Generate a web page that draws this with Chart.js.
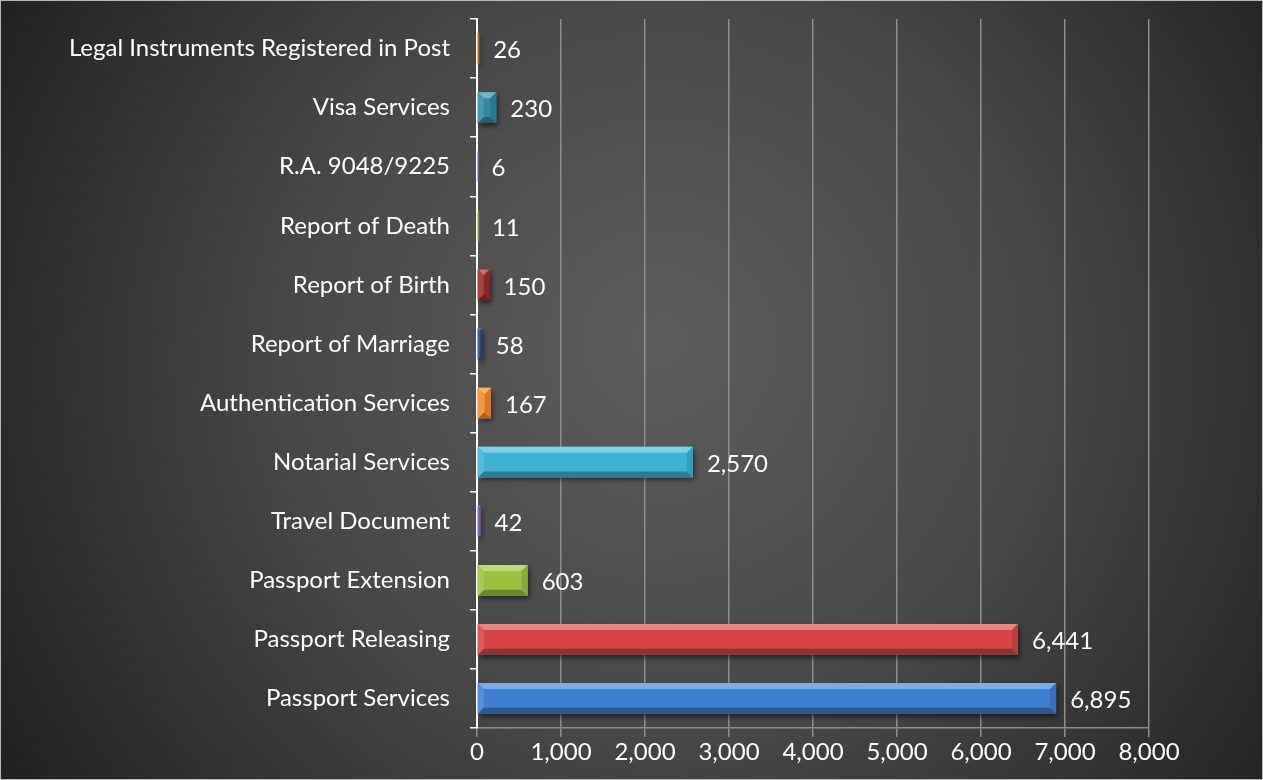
<!DOCTYPE html>
<html>
<head>
<meta charset="utf-8">
<script src="https://cdn.jsdelivr.net/npm/chart.js@4.4.1/dist/chart.umd.min.js"></script>
<style>
  html, body { margin: 0; padding: 0; background: #222; }
  #wrap { width: 1263px; height: 780px; }
</style>
</head>
<body>
<div id="wrap"><canvas id="servicesChart" width="1263" height="780"></canvas></div>
<script>
// categories, top to bottom as they appear in the chart
const services = [
    "Legal Instruments Registered in Post",
    "Visa Services",
    "R.A. 9048/9225",
    "Report of Death",
    "Report of Birth",
    "Report of Marriage",
    "Authentication Services",
    "Notarial Services",
    "Travel Document",
    "Passport Extension",
    "Passport Releasing",
    "Passport Services"
];
const counts = [26, 230, 6, 11, 150, 58, 167, 2570, 42, 603, 6441, 6895];
const barColors = [
    "#c0600f", "#2f8aa3", "#6a5590", "#7a9a3e", "#9c2b2b", "#274f86",
    "#f08a2c", "#3fb3d3", "#7e5ea6", "#9cc13f", "#d64545", "#3f7fd1"
];
const xTicks = [0, 1000, 2000, 3000, 4000, 5000, 6000, 7000, 8000];

const fontFamily = "Lato, 'Open Sans', sans-serif";
const fontSize = 24;

function shade(hex, amt) {
    const n = parseInt(hex.slice(1), 16);
    let r = (n >> 16) & 255, g = (n >> 8) & 255, b = n & 255;
    const f = c => Math.max(0, Math.min(255, Math.round(amt >= 0 ? c + (255 - c) * amt : c * (1 + amt))));
    return `rgb(${f(r)},${f(g)},${f(b)})`;
}

// dark radial background + thin frame
const backgroundPlugin = {
    id: "bg",
    beforeDraw(chart) {
        const { ctx, width, height } = chart;
        ctx.save();
        const g = ctx.createRadialGradient(660, 340, 20, 660, 380, 820);
        g.addColorStop(0, "#5c5c5c");
        g.addColorStop(0.45, "#474747");
        g.addColorStop(1, "#1b1b1b");
        ctx.fillStyle = g;
        ctx.fillRect(0, 0, width, height);
        ctx.strokeStyle = "#b8b8b8";
        ctx.lineWidth = 1;
        ctx.strokeRect(0.5, 0.5, width - 1, height - 1);
        ctx.restore();
    }
};

// soft shadow under bars, bevel edges and value labels
const bevelPlugin = {
    id: "bevel",
    beforeDatasetsDraw(chart) {
        const ctx = chart.ctx;
        ctx.save();
        ctx.shadowColor = "rgba(0,0,0,0.55)";
        ctx.shadowBlur = 5;
        ctx.shadowOffsetX = 2;
        ctx.shadowOffsetY = 3;
    },
    afterDatasetsDraw(chart) {
        const ctx = chart.ctx;
        ctx.restore();
        const meta = chart.getDatasetMeta(0);
        ctx.save();
        meta.data.forEach((bar, i) => {
            const left = bar.base, right = bar.x;
            const top = bar.y - bar.height / 2, bottom = bar.y + bar.height / 2;
            const w = right - left;
            const b = Math.min(6, w / 2, bar.height / 3);
            const c = barColors[i];
            if (w > 1.5) {
                ctx.fillStyle = shade(c, 0.35);
                ctx.beginPath();
                ctx.moveTo(left, top); ctx.lineTo(right, top);
                ctx.lineTo(right - b, top + b); ctx.lineTo(left + b, top + b);
                ctx.closePath(); ctx.fill();
                ctx.fillStyle = shade(c, -0.3);
                ctx.beginPath();
                ctx.moveTo(left, bottom); ctx.lineTo(right, bottom);
                ctx.lineTo(right - b, bottom - b); ctx.lineTo(left + b, bottom - b);
                ctx.closePath(); ctx.fill();
                ctx.fillStyle = shade(c, -0.12);
                ctx.beginPath();
                ctx.moveTo(right, top); ctx.lineTo(right, bottom);
                ctx.lineTo(right - b, bottom - b); ctx.lineTo(right - b, top + b);
                ctx.closePath(); ctx.fill();
                ctx.fillStyle = shade(c, 0.12);
                ctx.beginPath();
                ctx.moveTo(left, top); ctx.lineTo(left, bottom);
                ctx.lineTo(left + b, bottom - b); ctx.lineTo(left + b, top + b);
                ctx.closePath(); ctx.fill();
            } else {
                ctx.fillStyle = c;
                ctx.fillRect(left, top, 1.5, bottom - top);
            }
            // value label
            ctx.fillStyle = "#ffffff";
            ctx.font = `${fontSize}px ${fontFamily}`;
            ctx.textAlign = "left";
            ctx.textBaseline = "middle";
            ctx.fillText(counts[i].toLocaleString("en-US"), right + 14, bar.y + 2);
        });
        ctx.restore();
    }
};

const ctx = document.getElementById("servicesChart").getContext("2d");

new Chart(ctx, {
    type: "bar",
    data: {
        labels: services,
        datasets: [{
            data: counts,
            backgroundColor: (c) => {
                const el = c.element;
                const col = barColors[c.dataIndex];
                if (!el || !isFinite(el.y)) return col;
                const h = el.height || 30;
                const g = c.chart.ctx.createLinearGradient(0, el.y - h / 2, 0, el.y + h / 2);
                g.addColorStop(0, shade(col, 0.15));
                g.addColorStop(0.5, col);
                g.addColorStop(1, shade(col, -0.15));
                return g;
            },
            borderWidth: 0,
            barPercentage: 0.52,
            categoryPercentage: 1.0
        }]
    },
    options: {
        indexAxis: "y",
        responsive: false,
        animation: false,
        layout: { padding: { top: 19, right: 114, left: 0, bottom: 0 } },
        plugins: {
            legend: { display: false },
            tooltip: { enabled: false }
        },
        scales: {
            x: {
                min: 0,
                max: 8000,
                afterBuildTicks: (scale) => { scale.ticks = xTicks.map(v => ({ value: v })); },
                afterFit: (scale) => { scale.height = 52; },
                grid: { color: "#8e8e8e", lineWidth: 1.5, tickLength: 9 },
                border: { color: "#8e8e8e", width: 1.5 },
                ticks: {
                    color: "#ffffff",
                    padding: 1,
                    maxRotation: 0,
                    font: { family: fontFamily, size: fontSize },
                    callback: (v) => Number(v).toLocaleString("en-US")
                }
            },
            y: {
                afterFit: (scale) => {
                    scale.width = 477;
                    scale.paddingTop = 0;
                    scale.paddingBottom = 0;
                },
                grid: { drawOnChartArea: false, color: "#ffffff", lineWidth: 1.5, tickLength: 7, offset: true },
                border: { color: "#ffffff", width: 2 },
                ticks: {
                    color: "#ffffff",
                    padding: 20,
                    font: { family: fontFamily, size: fontSize }
                }
            }
        }
    },
    plugins: [backgroundPlugin, bevelPlugin]
});
</script>
</body>
</html>
